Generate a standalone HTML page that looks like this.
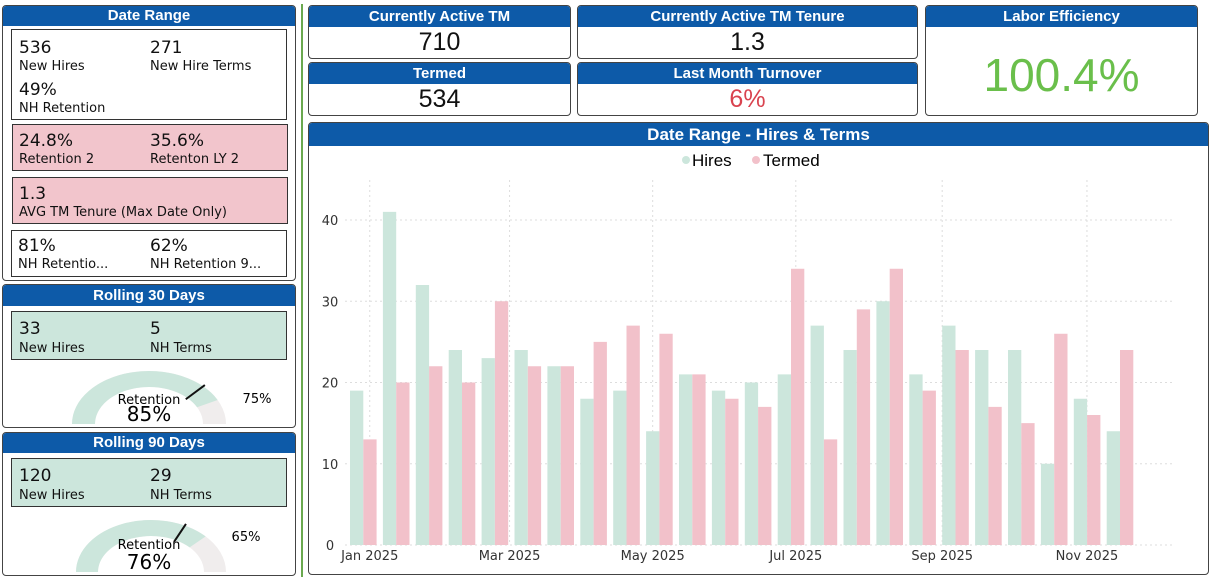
<!DOCTYPE html>
<html><head><meta charset="utf-8">
<style>
*{box-sizing:border-box;margin:0;padding:0}
body{width:1211px;height:577px;background:#fff;position:relative;overflow:hidden;font-family:"DejaVu Sans","Liberation Sans",sans-serif;color:#111}
.abs{position:absolute}
.card{position:absolute;border:1px solid #444;border-radius:4px;background:#fff;overflow:hidden}
.hdr{position:absolute;left:0;right:0;top:0;background:#0d5aa8;color:#fff;font-family:"Liberation Sans Narrow","Liberation Sans",sans-serif;font-weight:bold;text-align:center;font-size:15px}
.box{position:absolute;border:1px solid #333}
.v{position:absolute;font-size:17px}
.l{position:absolute;font-size:13px}
.big{position:absolute;left:0;right:0;text-align:center;font-family:"Liberation Sans Narrow","Liberation Sans",sans-serif;font-size:25px}
</style></head><body>
<div class="abs" style="left:301px;top:4px;width:2px;height:573px;background:#6aa84f"></div>

<div class="card" style="left:2px;top:5px;width:294px;height:276px">
 <div class="hdr" style="height:20px;line-height:20px">Date Range</div>
 <div class="box" style="left:8px;top:23px;width:276px;height:91px">
  <div class="v" style="left:7px;top:8px">536</div><div class="l" style="left:7px;top:29px">New Hires</div>
  <div class="v" style="left:138px;top:8px">271</div><div class="l" style="left:138px;top:29px">New Hire Terms</div>
  <div class="v" style="left:7px;top:50px">49%</div><div class="l" style="left:7px;top:71px">NH Retention</div>
 </div>
 <div class="box" style="left:9px;top:118px;width:276px;height:47px;background:#f2c5cc">
  <div class="v" style="left:6px;top:6px">24.8%</div><div class="l" style="left:6px;top:27px">Retention 2</div>
  <div class="v" style="left:137px;top:6px">35.6%</div><div class="l" style="left:137px;top:27px">Retenton LY 2</div>
 </div>
 <div class="box" style="left:9px;top:171px;width:276px;height:47px;background:#f2c5cc">
  <div class="v" style="left:6px;top:6px">1.3</div><div class="l" style="left:6px;top:27px">AVG TM Tenure (Max Date Only)</div>
 </div>
 <div class="box" style="left:8px;top:224px;width:276px;height:47px">
  <div class="v" style="left:6px;top:5px">81%</div><div class="l" style="left:6px;top:26px">NH Retentio...</div>
  <div class="v" style="left:138px;top:5px">62%</div><div class="l" style="left:138px;top:26px">NH Retention 9...</div>
 </div>
</div>

<div class="card" style="left:2px;top:284px;width:294px;height:144px">
 <div class="hdr" style="height:21px;line-height:21px">Rolling 30 Days</div>
 <div class="box" style="left:8px;top:26px;width:276px;height:49px;background:#cce6dc">
  <div class="v" style="left:7px;top:7px">33</div><div class="l" style="left:7px;top:29px">New Hires</div>
  <div class="v" style="left:138px;top:7px">5</div><div class="l" style="left:138px;top:29px">NH Terms</div>
 </div>
 <svg class="abs" style="left:0;top:0" width="294" height="144">
  <path id="g1bg" fill="#f0eded"/><path id="g1fg" fill="#cce6dc"/><line id="g1t" stroke="#111" stroke-width="2"/>
  <text x="146" y="119" font-size="13" text-anchor="middle" font-family="DejaVu Sans">Retention</text>
  <text x="146" y="136" font-size="20" text-anchor="middle" font-family="DejaVu Sans">85%</text>
  <text x="254" y="118" font-size="13" text-anchor="middle" font-family="DejaVu Sans">75%</text>
 </svg>
</div>

<div class="card" style="left:2px;top:432px;width:294px;height:144px">
 <div class="hdr" style="height:20px;line-height:20px">Rolling 90 Days</div>
 <div class="box" style="left:8px;top:25px;width:276px;height:49px;background:#cce6dc">
  <div class="v" style="left:7px;top:7px">120</div><div class="l" style="left:7px;top:29px">New Hires</div>
  <div class="v" style="left:138px;top:7px">29</div><div class="l" style="left:138px;top:29px">NH Terms</div>
 </div>
 <svg class="abs" style="left:0;top:0" width="294" height="144">
  <path id="g2bg" fill="#f0eded"/><path id="g2fg" fill="#cce6dc"/><line id="g2t" stroke="#111" stroke-width="2"/>
  <text x="146" y="116" font-size="13" text-anchor="middle" font-family="DejaVu Sans">Retention</text>
  <text x="146" y="136" font-size="20" text-anchor="middle" font-family="DejaVu Sans">76%</text>
  <text x="243" y="108" font-size="13" text-anchor="middle" font-family="DejaVu Sans">65%</text>
 </svg>
</div>

<div class="card" style="left:308px;top:5px;width:263px;height:54px">
 <div class="hdr" style="height:21px;line-height:21px">Currently Active TM</div>
 <div class="big" style="top:22px">710</div>
</div>
<div class="card" style="left:577px;top:5px;width:341px;height:54px">
 <div class="hdr" style="height:21px;line-height:21px">Currently Active TM Tenure</div>
 <div class="big" style="top:22px">1.3</div>
</div>
<div class="card" style="left:308px;top:62px;width:263px;height:54px">
 <div class="hdr" style="height:21px;line-height:21px">Termed</div>
 <div class="big" style="top:22px">534</div>
</div>
<div class="card" style="left:577px;top:62px;width:341px;height:54px">
 <div class="hdr" style="height:21px;line-height:21px">Last Month Turnover</div>
 <div class="big" style="top:22px;color:#d9434f">6%</div>
</div>
<div class="card" style="left:925px;top:5px;width:273px;height:111px">
 <div class="hdr" style="height:21px;line-height:21px">Labor Efficiency</div>
 <div class="big" style="top:42px;font-size:46px;color:#6abf4b">100.4%</div>
</div>

<div class="card" style="left:308px;top:122px;width:901px;height:453px">
 <div class="hdr" style="height:23px;line-height:23px;font-size:17px">Date Range - Hires &amp; Terms</div>
</div>
<svg id="chart" class="abs" style="left:0;top:0" width="1211" height="577">
 <g font-family="Liberation Sans Narrow, Liberation Sans, sans-serif" font-size="17">
  <circle cx="686" cy="160" r="4" fill="#cce6dc"/><text x="692" y="166">Hires</text>
  <circle cx="756" cy="160" r="4" fill="#f2c1ca"/><text x="763" y="166">Termed</text>
 </g>
 <g id="grid"></g><g id="bars"></g><g id="axes" font-family="DejaVu Sans, sans-serif" font-size="13" fill="#333"></g>
</svg>
<script>
const hires=[19,41,32,24,23,24,22,18,19,14,21,19,20,21,27,24,30,21,27,24,24,10,18,14];
const termed=[13,20,22,20,30,22,22,25,27,26,21,18,17,34,13,29,34,19,24,17,15,26,16,24];
const yTicks=[0,10,20,30,40];
const xTickLabels=["Jan 2025","Mar 2025","May 2025","Jul 2025","Sep 2025","Nov 2025"];
const xTickPos=[0.6,4.85,9.2,13.55,18,22.4];
const NS="http://www.w3.org/2000/svg";
const x0=350,pitch=32.9,y0=545,pxPerUnit=8.125;
const xs=i=>x0+i*pitch, ys=v=>y0-v*pxPerUnit;
function mk(t,a,p){const e=document.createElementNS(NS,t);for(const k in a)e.setAttribute(k,a[k]);p.appendChild(e);return e;}
const grid=document.getElementById('grid'),bars=document.getElementById('bars'),axes=document.getElementById('axes');
yTicks.forEach(v=>{
 const ln=mk('line',{x1:345,x2:1175,y1:ys(v),y2:ys(v),stroke:'#ddd','stroke-dasharray':'2,3'},grid);
 
 
 const t=mk('text',{x:330,y:ys(v)+5,'text-anchor':'middle'},axes);t.textContent=v;
 
 
});
xTickLabels.forEach((s,i)=>{
 const x=xs(xTickPos[i]);
 const ln=mk('line',{x1:x,x2:x,y1:180,y2:545,stroke:'#ddd','stroke-dasharray':'2,3'},grid);
 
 
 const t=mk('text',{x:x,y:560,'text-anchor':'middle'},axes);t.textContent=s;
 
 
});
const bw=13.3;
hires.forEach((v,i)=>{
 const r=mk('rect',{x:xs(i),y:ys(v),width:bw,height:y0-ys(v),fill:'#cce6dc'},bars);
 
 
 const v2=termed[i];
 const r2=mk('rect',{x:xs(i)+bw,y:ys(v2),width:bw,height:y0-ys(v2),fill:'#f2c1ca'},bars);
 
 
});
// gauges (elliptical)
function arc(cx,cy,Rx,Ry,rx,ry,a0,a1){const p=(ax,ay,a)=>[cx-ax*Math.cos(a*Math.PI),cy-ay*Math.sin(a*Math.PI)];
 const A=p(Rx,Ry,a0),B=p(Rx,Ry,a1),C=p(rx,ry,a1),D=p(rx,ry,a0);
 return `M${A}A${Rx},${Ry} 0 0 1 ${B}L${C}A${rx},${ry} 0 0 0 ${D}Z`;}
function gauge(id,cx,cy,Rx,Ry,rx,ry,val,tgt){
 document.getElementById(id+'bg').setAttribute('d',arc(cx,cy,Rx,Ry,rx,ry,0,1));
 document.getElementById(id+'fg').setAttribute('d',arc(cx,cy,Rx,Ry,rx,ry,0,val));
 const a=tgt*Math.PI,t=document.getElementById(id+'t');
 t.setAttribute('x1',cx-(rx-2)*Math.cos(a));t.setAttribute('y1',cy-(ry-2)*Math.sin(a));
 t.setAttribute('x2',cx-(Rx+2)*Math.cos(a));t.setAttribute('y2',cy-(Ry+2)*Math.sin(a));
}
gauge('g1',146,139,77,53,54,37,0.85,0.75);
gauge('g2',148,139,75,52,53,36,0.76,0.65);
</script>
</body></html>
